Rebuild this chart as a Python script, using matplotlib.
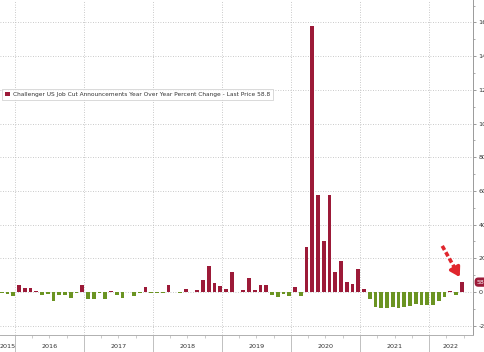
import matplotlib
matplotlib.use("Agg")
import matplotlib.pyplot as plt
import matplotlib.transforms as mtransforms
from matplotlib.patches import Patch
from matplotlib.ticker import MultipleLocator

# ---------------- data ----------------
months = [
    "2015-10", "2015-11", "2015-12",
    "2016-01", "2016-02", "2016-03", "2016-04", "2016-05", "2016-06",
    "2016-07", "2016-08", "2016-09", "2016-10", "2016-11", "2016-12",
    "2017-01", "2017-02", "2017-03", "2017-04", "2017-05", "2017-06",
    "2017-07", "2017-08", "2017-09", "2017-10", "2017-11", "2017-12",
    "2018-01", "2018-02", "2018-03", "2018-04", "2018-05", "2018-06",
    "2018-07", "2018-08", "2018-09", "2018-10", "2018-11", "2018-12",
    "2019-01", "2019-02", "2019-03", "2019-04", "2019-05", "2019-06",
    "2019-07", "2019-08", "2019-09", "2019-10", "2019-11", "2019-12",
    "2020-01", "2020-02", "2020-03", "2020-04", "2020-05", "2020-06",
    "2020-07", "2020-08", "2020-09", "2020-10", "2020-11", "2020-12",
    "2021-01", "2021-02", "2021-03", "2021-04", "2021-05", "2021-06",
    "2021-07", "2021-08", "2021-09", "2021-10", "2021-11", "2021-12",
    "2022-01", "2022-02", "2022-03", "2022-04", "2022-05", "2022-06",
]
values = [
    -3, -10, -24,
    42, 22, 22, 4, -20, -12, -54, -19, -20, -36, -5, 42,
    -39, -40, -4, -42, 6, -17, -37, 2, -25, -3, 30, -4,
    -3, -4, 39, -1, -5, 17, 3, 14, 71, 153, 51, 35,
    19, 117, 1, 11, 86, 13, 43, 39, -20, -27, -10, -23,
    27, -26, 267, 1576, 578, 305, 576, 116, 186, 60, 45, 134,
    17, -39, -86, -97, -94, -88, -93, -86, -85, -72, -77, -75,
    -76, -56, -30, 6, -16, 58.8,
]
years = [2015, 2016, 2017, 2018, 2019, 2020, 2021, 2022]
y_ticks = [-200, 0, 200, 400, 600, 800, 1000, 1200, 1400, 1600]
legend_label = ("Challenger US Job Cut Announcements Year Over Year "
                "Percent Change - Last Price 58.8")
last_price = "58.8"

RED = "#9c1a38"
GREEN = "#6b9422"

# ---------------- figure ----------------
W, H = 485, 352
fig = plt.figure(figsize=(W / 100, H / 100), dpi=100)
ax_left, ax_right, ax_bottom, ax_top = 0, 473, 335, 0
ax = fig.add_axes([ax_left / W, (H - ax_bottom) / H,
                   (ax_right - ax_left) / W, (ax_bottom - ax_top) / H])

def month_index(s):
    y, m = s.split("-")
    return (int(y) - 2016) * 12 + int(m) - 1

xs = [month_index(s) + 0.7 for s in months]
colors = [RED if v >= 0 else GREEN for v in values]
ax.bar(xs, values, width=0.68, color=colors, linewidth=0, zorder=3)

xmin, xmax = -2.6, 79.65
ax.set_xlim(xmin, xmax)
ax.set_ylim(-255, 1733)

# spines
for s in ["left", "top"]:
    ax.spines[s].set_visible(False)
ax.spines["right"].set_color("#9a9a9a")
ax.spines["right"].set_linewidth(0.7)
ax.spines["bottom"].set_color("#b0b0b0")
ax.spines["bottom"].set_linewidth(0.7)

# y axis on right
ax.yaxis.tick_right()
ax.set_yticks(y_ticks)
ax.set_yticklabels([str(v) for v in y_ticks])
ax.yaxis.set_minor_locator(MultipleLocator(100))
ax.tick_params(axis="y", which="major", labelsize=4.6, labelcolor="#333333",
               color="#8a8a8a", length=2.5, width=0.6, pad=1.5)
ax.tick_params(axis="y", which="minor", color="#8a8a8a", length=1.5, width=0.5)

# x axis: year boundaries and quarter ticks
year_starts = [(y - 2016) * 12 for y in years[1:]]
ax.set_xticks(year_starts)
ax.set_xticklabels([])
quarters = [q for q in range(-3, 80, 3) if q % 12 != 0 and xmin < q < xmax]
ax.set_xticks(quarters, minor=True)
ax.tick_params(axis="x", which="major", length=17 * 0.72, width=0.6, color="#b5b5b5")
ax.tick_params(axis="x", which="minor", length=3 * 0.72, width=0.5, color="#b5b5b5")

# grid
ax.grid(axis="y", which="major", ls=(0, (1, 2)), color="#b8b8b8", lw=0.6, zorder=0)
ax.grid(axis="x", which="major", ls=(0, (1, 2)), color="#b8b8b8", lw=0.6, zorder=0)

# year labels centred on visible part of each year
trans = mtransforms.blended_transform_factory(ax.transData, ax.transAxes)
for y in years:
    a = max((y - 2016) * 12, xmin)
    b = min((y - 2015) * 12, xmax)
    ax.text((a + b) / 2, -11 / 335, str(y), transform=trans, ha="center",
            va="center", fontsize=4.6, color="#333333", clip_on=False)

# legend
leg = ax.legend(handles=[Patch(facecolor=RED, edgecolor="none")],
                labels=[legend_label], loc="upper left",
                bbox_to_anchor=(2 / 473, 1 - 89 / 335), fontsize=4.2,
                frameon=True, fancybox=False, edgecolor="#c8c8c8",
                borderpad=0.45, handlelength=0.9, handleheight=0.9,
                handletextpad=0.6, borderaxespad=0)
leg.get_frame().set_linewidth(0.6)
for t in leg.get_texts():
    t.set_color("#333333")

# last price tag
ytrans = mtransforms.blended_transform_factory(ax.transAxes, ax.transData)
ax.text(1.008, values[-1], last_price, transform=ytrans, ha="left", va="center",
        fontsize=4.4, color="white", clip_on=False,
        bbox=dict(boxstyle="round,pad=0.35,rounding_size=0.6", fc=RED, ec="none"))

# red dashed arrow pointing to the last bar
lx, lv = xs[-1], values[-1]
tip = (lx - 0.35, lv + 30)
start = (lx - 3.4, lv + 215)
mid = (tip[0] + (start[0] - tip[0]) * 0.22, tip[1] + (start[1] - tip[1]) * 0.22)
ax.annotate("", xy=mid, xytext=start,
            arrowprops=dict(arrowstyle="-", color="#e0262d", lw=2.6,
                            ls=(0, (1.3, 0.7)), capstyle="butt",
                            shrinkA=0, shrinkB=0), zorder=5)
ax.annotate("", xy=tip, xytext=mid,
            arrowprops=dict(arrowstyle="-|>,head_length=0.9,head_width=0.55",
                            color="#e0262d", lw=2.4, shrinkA=0, shrinkB=0,
                            mutation_scale=6), zorder=5)

fig.savefig("out.png", dpi=100)
